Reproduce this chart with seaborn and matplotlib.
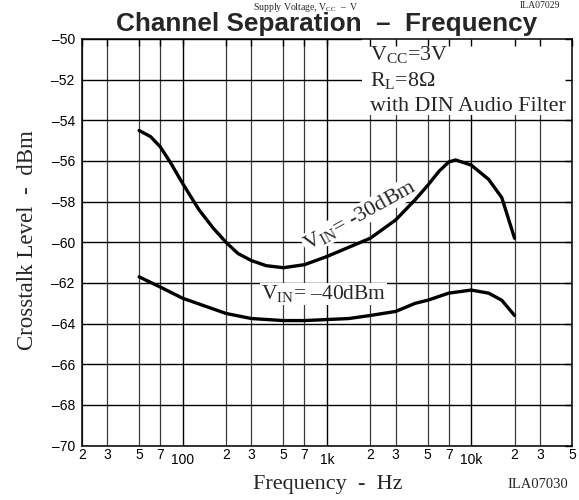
import pandas as pd
import matplotlib.pyplot as plt
from matplotlib.patches import Rectangle
from matplotlib.ticker import FixedLocator, FixedFormatter, NullLocator
import seaborn as sns

# curves (Hz, dBm)
freq_30 = [50, 60, 70, 82, 100, 130, 163, 200, 242, 300, 380, 500, 700,
           1000, 2000, 3000, 4100, 5000, 6000, 7000, 7800, 10000, 13200, 16300, 20000]
level_30 = [-54.5, -54.8, -55.3, -56.05, -57.1, -58.4, -59.3, -60.0, -60.55, -60.9, -61.15, -61.25, -61.1,
            -60.7, -59.8, -58.9, -57.9, -57.2, -56.5, -56.05, -55.95, -56.2, -56.9, -57.8, -59.8]

freq_40 = [50, 70, 100, 200, 300, 500, 700, 1000, 1420, 2000, 3000, 4100, 5000,
           7000, 10000, 13200, 16300, 20000]
level_40 = [-61.7, -62.2, -62.75, -63.5, -63.75, -63.85, -63.85, -63.8, -63.75, -63.6, -63.4, -63.0, -62.85,
            -62.5, -62.35, -62.5, -62.85, -63.6]

# axis ticks
major_ticks = [100, 1000, 10000]
major_labels = ['100', '1k', '10k']
minor_ticks = [20, 30, 50, 70, 200, 300, 500, 700, 2000, 3000, 5000, 7000, 20000, 30000, 50000]
minor_labels = ['2', '3', '5', '7', '2', '3', '5', '7', '2', '3', '5', '7', '2', '3', '5']
y_ticks = [-70, -68, -66, -64, -62, -60, -58, -56, -54, -52, -50]

sns.set_style('white')
plt.rcParams['font.family'] = ['Liberation Sans', 'DejaVu Sans']
plt.rcParams['mathtext.fontset'] = 'custom'
plt.rcParams['mathtext.rm'] = 'Liberation Serif'
plt.rcParams['mathtext.it'] = 'Liberation Serif:italic'
serif = ['Liberation Serif', 'DejaVu Serif']

df = pd.concat([
    pd.DataFrame({'freq': freq_30, 'level': level_30, 'vin': '-30dBm'}),
    pd.DataFrame({'freq': freq_40, 'level': level_40, 'vin': '-40dBm'}),
])

fig = plt.figure(figsize=(5.79, 5.0), dpi=100)
pos = [81.7 / 579, 54.4 / 500, 490.3 / 579, 406.6 / 500]
ax = fig.add_axes(pos)

sns.lineplot(data=df, x='freq', y='level', hue='vin', palette=['black', 'black'],
             linewidth=2.4, legend=False, estimator=None, sort=False, ax=ax)

ax.set_xscale('log')
ax.set_xlim(20, 50000)
ax.set_ylim(-70, -50)
ax.xaxis.set_major_locator(FixedLocator(major_ticks))
ax.xaxis.set_major_formatter(FixedFormatter(major_labels))
ax.xaxis.set_minor_locator(FixedLocator(minor_ticks))
ax.xaxis.set_minor_formatter(FixedFormatter(minor_labels))
ax.set_yticks(y_ticks)
ax.set_yticklabels([f'\u2013{abs(v)}' for v in y_ticks])
ax.yaxis.set_minor_locator(NullLocator())
ax.tick_params(which='both', length=0, labelsize=10, colors='black')
ax.tick_params(axis='x', which='minor', pad=2)
ax.tick_params(axis='x', which='major', pad=5.5)
ax.tick_params(axis='y', pad=5)
ax.set_xlabel('')
ax.set_ylabel('')

ax.grid(True, which='major', color='black', linewidth=1.0)
ax.grid(True, which='minor', axis='x', color='#3a3a3a', linewidth=0.9)
for s in ax.spines.values():
    s.set_color('black')
    s.set_linewidth(1.1)

# white box behind the conditions text
ax.add_patch(Rectangle((0.572, 0.812), 0.428, 0.188, transform=ax.transAxes,
                       facecolor='white', edgecolor='none', zorder=1))
ax.text(0.588, 0.948, 'V$_{\\rm CC}$=3V', transform=ax.transAxes, fontsize=15.8,
        family=serif, va='baseline', ha='left', zorder=4)
ax.text(0.588, 0.884, 'R$_{\\rm L}$=8\u03a9', transform=ax.transAxes, fontsize=15.8,
        family=serif, va='baseline', ha='left', zorder=4)
ax.text(0.588, 0.823, 'with DIN Audio Filter', transform=ax.transAxes, fontsize=15.8,
        family=serif, va='baseline', ha='left', zorder=4)

# curve labels (under the curves, over the grid)
ax.text(0.567, 0.566, 'V$_{\\rm IN}$= -30dBm', transform=ax.transAxes, fontsize=16,
        family=serif, rotation=29, rotation_mode='anchor', ha='center', va='center',
        bbox=dict(facecolor='white', edgecolor='none', pad=0.5), zorder=1.8)
ax.text(0.493, 0.373, 'V$_{\\rm IN}$= \u201340dBm', transform=ax.transAxes, fontsize=15.5,
        family=serif, ha='center', va='center',
        bbox=dict(facecolor='white', edgecolor='none', pad=0.5), zorder=1.8)

# overlay just for the little inward ticks on top/right
ax_t = fig.add_axes(pos, facecolor='none')
ax_t.set_xscale('log')
ax_t.set_xlim(20, 50000)
ax_t.set_ylim(-70, -50)
ax_t.xaxis.set_major_locator(FixedLocator(major_ticks))
ax_t.xaxis.set_minor_locator(FixedLocator(minor_ticks))
ax_t.set_yticks(y_ticks)
ax_t.tick_params(which='both', direction='in', length=5, width=1, color='black',
                 top=True, right=True, bottom=False, left=False,
                 labelbottom=False, labelleft=False)
for s in ax_t.spines.values():
    s.set_visible(False)

fig.text(327 / 579, 1 - 31.5 / 500, 'Channel Separation  \u2013  Frequency', fontsize=18.8,
         fontweight='bold', ha='center', va='baseline')
fig.text(28 / 579, 1 - 240 / 500, 'Crosstalk Level  -  dBm', fontsize=16.5, family=serif,
         rotation=90, ha='center', va='center')
fig.text(328 / 579, 1 - 485 / 500, 'Frequency  -  Hz', fontsize=16, family=serif,
         ha='center', va='center')
fig.text(538 / 579, 1 - 485 / 500, 'ILA07030', fontsize=10.5, family=serif,
         ha='center', va='center')
# caption of the chart above, mostly cut away in the source
fig.text(306 / 579, 1 - 1 / 500, 'Supply Voltage, V$_{\\rm CC}$  \u2013  V', fontsize=7,
         family=serif, ha='center', va='top')
fig.text(540 / 579, 1 - 1 / 500, 'ILA07029', fontsize=7, family=serif,
         ha='center', va='top')

fig.savefig('out.png', dpi=100)
